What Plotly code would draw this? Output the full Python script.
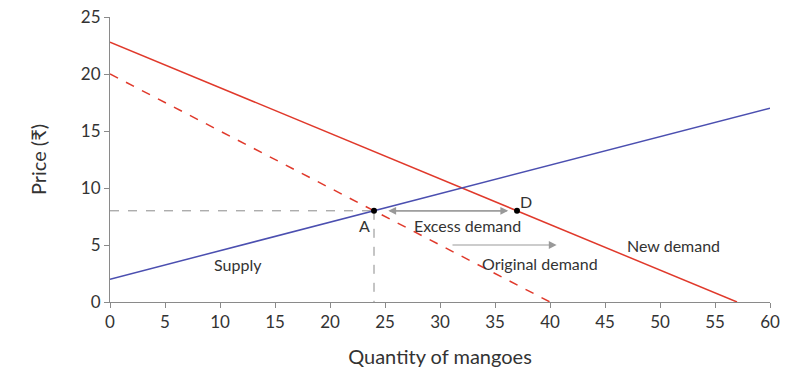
import plotly.graph_objects as go

# Data
supply_q = [0, 60]
supply_p = [2, 17]
orig_demand_q = [0, 40]
orig_demand_p = [20, 0]
new_demand_q = [0, 57]
new_demand_p = [22.8, 0]
point_names = ["A", "D"]
point_q = [24, 37]
point_p = [8, 8]
x_ticks = [0, 5, 10, 15, 20, 25, 30, 35, 40, 45, 50, 55, 60]
y_ticks = [0, 5, 10, 15, 20, 25]

RED = "#e0392b"
BLUE = "#4b4fb0"
GREY = "#8a8a8a"
ARROW = "#999999"
TXT = "#333333"
FONT = "Lato"

fig = go.Figure()
# guide lines
fig.add_trace(go.Scatter(x=[0, point_q[0]], y=[point_p[0], point_p[0]], mode="lines",
                         line=dict(color=GREY, width=1, dash="dash"), hoverinfo="skip"))
fig.add_trace(go.Scatter(x=[point_q[0], point_q[0]], y=[point_p[0], 0], mode="lines",
                         line=dict(color=GREY, width=1, dash="dash"), hoverinfo="skip"))
fig.add_trace(go.Scatter(x=orig_demand_q, y=orig_demand_p, mode="lines",
                         line=dict(color=RED, width=1.5, dash="dash"), name="Original demand"))
fig.add_trace(go.Scatter(x=new_demand_q, y=new_demand_p, mode="lines",
                         line=dict(color=RED, width=1.5), name="New demand"))
fig.add_trace(go.Scatter(x=supply_q, y=supply_p, mode="lines",
                         line=dict(color=BLUE, width=1.5), name="Supply"))
fig.add_trace(go.Scatter(x=point_q, y=point_p, mode="markers",
                         marker=dict(color="black", size=6), name="points"))

def label(x, y, t):
    fig.add_annotation(x=x, y=y, text=t, showarrow=False, xref="x", yref="y",
                       font=dict(family=FONT, size=16, color=TXT))

label(23.1, 6.7, "A")
label(37.8, 8.8, "D")
label(32.5, 6.7, "Excess demand")
label(39.1, 3.4, "Original demand")
label(51.2, 5.0, "New demand")
label(11.6, 3.3, "Supply")

# Excess demand double arrow
for x0, x1 in [(25.3, 36.2), (36.2, 25.3)]:
    fig.add_annotation(x=x1, y=8, ax=x0, ay=8, xref="x", yref="y", axref="x", ayref="y",
                       showarrow=True, arrowhead=2, arrowsize=1.3, arrowwidth=1.2,
                       arrowcolor=ARROW, text="")
# shift arrow
fig.add_annotation(x=40.6, y=5.0, ax=31.0, ay=5.0, xref="x", yref="y", axref="x", ayref="y",
                   showarrow=True, arrowhead=2, arrowsize=1.3, arrowwidth=1.2,
                   arrowcolor=ARROW, text="")

fig.update_layout(
    width=809, height=386, showlegend=False,
    plot_bgcolor="white", paper_bgcolor="white",
    margin=dict(l=110, r=39, t=17, b=84, autoexpand=False),
    font=dict(family=FONT, color=TXT),
    xaxis=dict(range=[0, 60], tickvals=x_ticks, showgrid=False, zeroline=False,
               showline=True, linecolor=GREY, linewidth=1, ticks="outside",
               tickcolor=GREY, ticklen=5, tickfont=dict(size=17, color=TXT), automargin=False,
               ticklabeloverflow="allow",
               title=dict(text="Quantity of mangoes", font=dict(size=20, color=TXT), standoff=18)),
    yaxis=dict(range=[0, 25], tickvals=y_ticks, showgrid=False, zeroline=False,
               showline=True, linecolor=GREY, linewidth=1, ticks="outside",
               tickcolor=GREY, ticklen=5, tickfont=dict(size=17, color=TXT), automargin=False,
               ticklabeloverflow="allow",
               title=dict(text="Price (₹)", font=dict(size=20, color=TXT), standoff=28)),
)

fig.write_html("out.html", config={"displayModeBar": False},
               post_script="document.body.style.margin='0px';document.body.style.overflow='hidden';")
